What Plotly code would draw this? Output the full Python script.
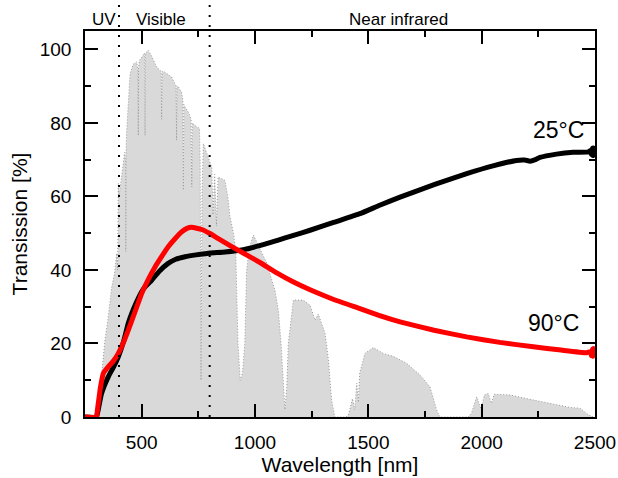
import plotly.graph_objects as go

# Solar spectrum (normalised, %) – envelope with absorption dips
spec_wl = [280, 300, 310, 325, 338, 350, 368, 380, 390, 394, 396, 397, 400, 417, 425, 429, 430, 431,
           434, 449, 463, 478, 484, 485, 486, 490, 500, 513, 515, 517, 529, 544, 566, 586, 588, 590,
           603, 632, 652, 654, 656, 662, 676, 682, 684, 686, 691, 706, 718, 721, 724, 735, 755, 758,
           762, 766, 772, 787, 809, 815, 822, 830, 837, 867, 880, 890, 905, 915, 925, 935, 945, 955,
           963, 975, 993, 1020, 1052, 1088, 1103, 1115, 1125, 1132, 1140, 1147, 1169, 1213, 1243,
           1265, 1279, 1309, 1324, 1338, 1352, 1400, 1412, 1430, 1440, 1449, 1456, 1462, 1485, 1522,
           1566, 1610, 1669, 1728, 1772, 1801, 1816, 1940, 1955, 1978, 1998, 2012, 2029, 2043, 2055,
           2081, 2125, 2213, 2301, 2390, 2434, 2470, 2493]
spec_t = [0, 0, 3, 12.8, 21, 26, 35.4, 39, 44.5, 40, 53.5, 63.6, 60, 69, 72, 70, 45, 72,
          78, 93.4, 96, 96.6, 94, 76.6, 95, 97, 98, 99, 76.6, 99, 99.7, 98.2, 95.2, 94, 81, 94,
          93.8, 92.5, 90, 75.3, 90, 89.8, 88.4, 86, 61.7, 85, 84.3, 83, 81, 62.6, 80, 79.3, 78.5, 70,
          10, 60, 74.4, 71.7, 68, 55, 66, 52, 65.3, 64.4, 60, 54.4, 50, 45, 20, 10, 12, 20,
          40, 46, 49.5, 46, 41.8, 34.5, 29, 20, 8, 2, 8, 20, 31.8, 31.8, 30.4,
          26.3, 28, 22.8, 15.5, 4.6, 0, 0, 0.5, 5, 2, 9.2, 4, 12, 17.3, 18.9,
          17.3, 16.5, 14.6, 11.4, 8.2, 2, 0, 0, 1, 5.5, 2, 6, 6.4, 3.7, 6.2,
          6.2, 6, 4.8, 3.7, 2.6, 2.4, 0.6, 0]

# Transmission at 25 °C
t25_wl = [250, 300, 305, 323, 353, 375, 397, 420, 441, 465, 485, 510, 544, 580, 617, 650, 691, 740,
          779, 801, 868, 948, 1020, 1096, 1170, 1243, 1350, 1463, 1550, 1640, 1790, 1934, 2050,
          2154, 2190, 2213, 2240, 2257, 2330, 2404, 2470, 2480, 2484, 2488, 2491, 2494, 2497, 2500]
t25_t = [0, 0, 1, 6.4, 11, 13.5, 16.4, 20.5, 25.5, 29.5, 32.3, 35, 37.2, 39.8, 41.8, 42.9, 43.6, 44.1,
         44.4, 44.6, 44.9, 45.5, 46.6, 48.0, 49.4, 50.8, 53, 55.3, 57.6, 59.8, 63.2, 66.2, 68.3,
         69.8, 69.9, 69.6, 70.1, 70.6, 71.5, 72.0, 72.1, 72.5, 71.4, 73.1, 71.1, 73.2, 71.4, 72.4]

# Transmission at 90 °C
t90_wl = [250, 300, 305, 318, 331, 353, 375, 397, 420, 441, 470, 500, 530, 559, 590, 617, 650, 677,
          700, 720, 765, 801, 838, 890, 948, 1020, 1096, 1170, 1243, 1350, 1463, 1550, 1640, 1790,
          1934, 2080, 2228, 2350, 2463, 2480, 2484, 2488, 2491, 2494, 2497, 2500]
t90_t = [0, 0, 2, 8, 11.9, 13.7, 15.2, 17.3, 20.3, 23.6, 28.5, 33.6, 37.5, 40.8, 43.8, 46.3, 48.7, 50.4,
         51.3, 51.6, 51.0, 49.9, 48.5, 46.6, 44.6, 42.1, 39.2, 36.7, 34.6, 31.9, 29.5, 27.6, 25.9, 23.6,
         21.8, 20.3, 19.1, 18.2, 17.5, 17.8, 16.7, 18.4, 16.5, 18.6, 16.8, 17.6]

region_bounds = [400, 800]
region_labels = ["UV", "Visible", "Near infrared"]
region_label_x = [333, 586, 1635]
curve_labels = ["25°C", "90°C"]
curve_label_x = [2337, 2315]
curve_label_y = [78, 25.5]

FONT = "Arial, Liberation Sans, sans-serif"

fig = go.Figure()
fig.add_trace(go.Scatter(x=spec_wl, y=spec_t, mode="lines", fill="tozeroy",
                         fillcolor="#d9d9d9",
                         line=dict(color="#9a9a9a", width=1, dash="1px,2px"),
                         showlegend=False, hoverinfo="skip"))
fig.add_trace(go.Scatter(x=t25_wl, y=t25_t, mode="lines",
                         line=dict(color="black", width=5, shape="spline", smoothing=0.4),
                         showlegend=False))
fig.add_trace(go.Scatter(x=t90_wl, y=t90_t, mode="lines",
                         line=dict(color="#ff0000", width=5, shape="spline", smoothing=0.4),
                         showlegend=False))

for xb in region_bounds:
    fig.add_shape(type="line", x0=xb, x1=xb, xref="x", y0=0, y1=1.07, yref="paper",
                  line=dict(color="black", width=2, dash="2px,8px"), layer="above")

for lab, lx in zip(region_labels, region_label_x):
    fig.add_annotation(x=lx, y=1.0, xref="x", yref="paper", yanchor="bottom", yshift=0,
                       text=lab, showarrow=False, font=dict(family=FONT, size=17, color="black"))

for lab, lx, ly in zip(curve_labels, curve_label_x, curve_label_y):
    fig.add_annotation(x=lx, y=ly, xref="x", yref="y", text=lab, showarrow=False,
                       font=dict(family=FONT, size=23, color="black"))

axis_common = dict(showline=True, linecolor="black", linewidth=1.5, mirror="ticks",
                   ticks="inside", ticklen=13, tickwidth=1.5, tickcolor="black",
                   showgrid=False, zeroline=False, automargin=False,
                   tickfont=dict(family=FONT, size=19, color="black"))

fig.update_xaxes(range=[250, 2500], tickvals=[500, 1000, 1500, 2000, 2500],
                 minor=dict(dtick=250, tick0=250, ticks="inside", ticklen=6, tickwidth=1.5,
                            tickcolor="black", showgrid=False),
                 ticklabelstandoff=7,
                 title=dict(text="Wavelength [nm]", font=dict(family=FONT, size=21, color="black"),
                            standoff=4),
                 **axis_common)
fig.update_yaxes(range=[0, 105], tickvals=[0, 20, 40, 60, 80, 100],
                 minor=dict(dtick=10, tick0=0, ticks="inside", ticklen=6, tickwidth=1.5,
                            tickcolor="black", showgrid=False),
                 ticklabelstandoff=8,
                 title=dict(text="Transission [%]", font=dict(family=FONT, size=21, color="black"),
                            standoff=6),
                 **axis_common)

fig.update_layout(width=618, height=478, margin=dict(l=85, r=23, t=31, b=61),
                  plot_bgcolor="white", paper_bgcolor="white",
                  font=dict(family=FONT, color="black"))

fig.write_html("out.html")
